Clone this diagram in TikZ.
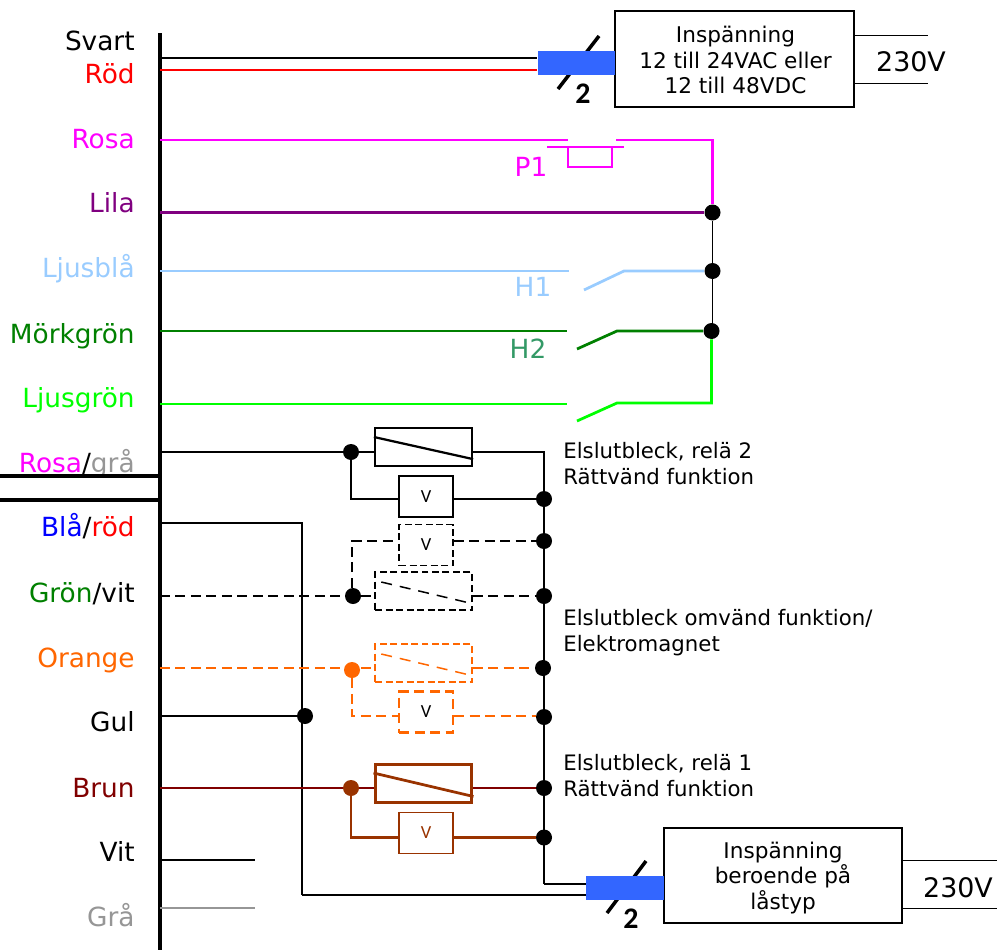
\documentclass[tikz,border=0pt]{standalone}
\usepackage{fontspec}
\setmainfont{DejaVu Sans}
\newfontfamily\calfont{Carlito}
\usepackage{tikz}
\usetikzlibrary{positioning}
\definecolor{rosa}{HTML}{FF00FF}
\definecolor{lila}{HTML}{800080}
\definecolor{ljusbla}{HTML}{99CCFF}
\definecolor{morkgron}{HTML}{008000}
\definecolor{hgron}{HTML}{339966}
\definecolor{ljusgron}{HTML}{00FF00}
\definecolor{gra}{HTML}{969696}
\definecolor{orange}{HTML}{FF6600}
\definecolor{brun}{HTML}{800000}
\definecolor{brunlj}{HTML}{993300}
\definecolor{kabel}{HTML}{3366FF}

\begin{document}
\begin{tikzpicture}
	[x=0.02cm,y=-0.02cm,
	lbl/.style={anchor=base east,inner sep=0pt,font=\fontsize{15}{17}\selectfont},
	sym/.style={inner sep=0pt,font=\fontsize{15}{17}\selectfont},
	note/.style={anchor=west,inner sep=0pt,align=left,font=\fontsize{12.1}{14.8}\selectfont},
	boxframe/.style={shape=rectangle,draw,line width=0.045cm,inner sep=0pt},
	boxtext/.style={inner sep=0pt,align=center,font=\fontsize{12.3}{14.3}\selectfont},
	volt/.style={inner sep=0pt,font=\fontsize{15.3}{17}\selectfont},
	two/.style={inner sep=0pt,font=\calfont\bfseries\fontsize{17}{19}\selectfont},
	wire/.style={line width=0.055cm},
	thinwire/.style={line width=0.03cm},
	mains/.style={line width=0.02cm},
	dashwire/.style={line width=0.055cm,dash pattern=on 0.2cm off 0.11cm},
	relay/.style={shape=rectangle,draw,line width=0.045cm,minimum width=1.94cm,minimum height=0.76cm,inner sep=0pt},
	vbox/.style={shape=rectangle,draw,line width=0.04cm,minimum width=1.08cm,minimum height=0.82cm,inner sep=0pt,font=\calfont\fontsize{10.5}{12}\selectfont},
	dashbox/.style={line width=0.03cm,dash pattern=on 0.14cm off 0.07cm},
	dot/.style={shape=circle,fill=black,minimum size=0.32cm,inner sep=0pt},
	cable/.style={shape=rectangle,fill=kabel,minimum width=1.55cm,minimum height=0.48cm,inner sep=0pt}]
	\useasboundingbox (0,0) rectangle (997,950);

	% bus and labels
	\node (svart) [lbl] at (135,50.5) {Svart};
	\node (rod) [lbl,text=red] at (135,83) {Röd};
	\node (lrosa) [lbl,text=rosa] at (135,148) {Rosa};
	\node (llila) [lbl,text=lila] at (135,212) {Lila};
	\node (lbla) [lbl,text=ljusbla] at (135,277.5) {Ljusblå};
	\node (lmork) [lbl,text=morkgron] at (135,343) {Mörkgrön};
	\node (lljus) [lbl,text=ljusgron] at (135,407) {Ljusgrön};
	\node (lrosagra) [lbl] at (135,472) {\textcolor{rosa}{Rosa}/\textcolor{gra}{grå}};
	\node (lblarod) [lbl] at (135,536) {\textcolor{blue}{Blå}/\textcolor{red}{röd}};
	\node (lgronvit) [lbl] at (135,602) {\textcolor{morkgron}{Grön}/vit};
	\node (lorange) [lbl,text=orange] at (135,667) {Orange};
	\node (lgul) [lbl] at (135,731) {Gul};
	\node (lbrun) [lbl,text=brun] at (135,797) {Brun};
	\node (lvit) [lbl] at (135,861) {Vit};
	\node (lgra) [lbl,text=gra] at (135,926.5) {Grå};

	\coordinate (bustop) at (160,33);
	\coordinate (busbot) at (160,950);
	\coordinate (cut1a) at (0,476);
	\coordinate (cut1b) at (160,476);
	\coordinate (cut2a) at (0,499.5);
	\coordinate (cut2b) at (160,499.5);
	\draw [line width=0.09cm] (bustop) to (busbot);
	\draw [line width=0.08cm] (cut1a) to (cut1b);
	\draw [line width=0.08cm] (cut2a) to (cut2b);

	% top supply
	\node (supply) [boxframe,minimum width=4.78cm,minimum height=1.92cm] at (734.5,59) {};
	\node (supplytext) [boxtext] at (735.5,60) {Inspänning\\12 till 24VAC eller\\12 till 48VDC};
	\node (cabletop) [cable] at (576.5,63) {};
	\node (twotop) [two] at (583,94) {2};
	\node (volttop) [volt] at (911,62) {230V};
	\coordinate (sl1a) at (558,89);
	\coordinate (sl1b) at (599,36);
	\coordinate (mains1a) at (855,35);
	\coordinate (mains1b) at (928,35);
	\coordinate (mains2a) at (855,83);
	\coordinate (mains2b) at (928,83);
	\coordinate (bsvart) at (160,58);
	\coordinate (bred) at (160,70);
	\draw [wire] (bsvart) to (cabletop.west |- bsvart);
	\draw [wire,red] (bred) to (cabletop.west |- bred);
	\draw [mains] (mains1a) to (mains1b);
	\draw [mains] (mains2a) to (mains2b);
	\draw [line width=0.07cm] (sl1a) to (sl1b);
	\node [cable] at (cabletop) {};

	% switches
	\node (jlila) [dot] at (712.5,212.5) {};
	\node (jbla) [dot] at (712.5,271) {};
	\node (jmork) [dot] at (711.5,331) {};
	\coordinate (brosa) at (160,140);
	\coordinate (rosa1) at (568,140);
	\coordinate (rosa2) at (616,140);
	\coordinate (blila) at (160,212.5);
	\coordinate (bbla) at (160,271);
	\coordinate (bla1) at (569,271);
	\coordinate (bla2) at (584,290);
	\coordinate (bla3) at (624,271);
	\coordinate (bmork) at (160,331);
	\coordinate (mork1) at (567,331);
	\coordinate (mork2) at (577,349);
	\coordinate (mork3) at (617,331);
	\coordinate (bljus) at (160,404);
	\coordinate (ljus1) at (567,404);
	\coordinate (ljus2) at (577,421);
	\coordinate (ljus3) at (617,403);
	\coordinate (bar1) at (547,147);
	\coordinate (bar2) at (624,147);
	\coordinate (knob1) at (568,147);
	\coordinate (knob2) at (612,167);

	\draw [wire,rosa] (brosa) to (rosa1);
	\draw [wire,rosa] (rosa2) -- (jlila |- rosa2) -- (jlila);
	\draw [mains,rosa,line width=0.03cm] (bar1) to (bar2);
	\draw [rosa,line width=0.035cm] (knob1) rectangle (knob2);
	\draw [wire,lila] (blila) to (jlila);
	\draw [thinwire] (jlila) to (jlila |- jmork);
	\draw [wire,ljusbla] (bbla) to (bla1);
	\draw [wire,ljusbla] (bla2) -- (bla3) -- (jbla);
	\draw [wire,morkgron] (bmork) to (mork1);
	\draw [wire,morkgron] (mork2) -- (mork3) -- (jmork);
	\draw [wire,ljusgron] (bljus) to (ljus1);
	\draw [wire,ljusgron] (ljus2) -- (ljus3) -- (jmork |- ljus3) -- (jmork);
	\node (p1) [sym,text=rosa] at (531,167) {P1};
	\node (h1) [sym,text=ljusbla] at (533,287) {H1};
	\node (h2) [sym,text=hgron] at (528,349) {H2};

	% locks
	\node (jr2) [dot] at (351,452) {};
	\node (rel2) [relay] at (423.5,447) {};
	\node (v2) [vbox] at (426,496.5) {V};
	\node (j1) [dot] at (544,499) {};
	\node (jb1) [dot] at (544,541) {};
	\node (j2) [dot] at (544,596) {};
	\node (jg) [dot] at (353,596) {};
	\node (vd) [vbox,dashbox] at (426,545) {V};
	\node (reld) [relay,dashbox] at (423.5,591) {};
	\node (jo) [dot,fill=orange] at (352,670) {};
	\node (relo) [relay,dashbox,draw=orange] at (423.5,663) {};
	\node (vo) [vbox,dashbox,draw=orange,line width=0.05cm,dash pattern=on 0.2cm off 0.11cm] at (426,712) {V};
	\node (j3) [dot] at (543,668) {};
	\node (j4) [dot] at (544,717) {};
	\node (jgul) [dot] at (305,716) {};
	\node (jb) [dot,fill=brunlj] at (351,788) {};
	\node (relb) [relay,draw=brunlj,line width=0.06cm] at (423.5,783) {};
	\node (vb) [vbox,draw=brunlj,text=brunlj,line width=0.03cm] at (426,833) {V};
	\node (j5) [dot] at (544,788) {};
	\node (j6) [dot] at (544,837.5) {};

	\coordinate (brg) at (160,452);
	\coordinate (top) at (544,452);
	\coordinate (corner) at (544,884);
	\coordinate (bblarod) at (160,523);
	\coordinate (blarod1) at (302,523);
	\coordinate (blarod2) at (302,895);
	\coordinate (bgv) at (160,596);
	\coordinate (bor) at (160,668);
	\coordinate (bgul) at (160,716);
	\coordinate (bbrun) at (160,788);
	\coordinate (bvit) at (160,860);
	\coordinate (vit2) at (255,860);
	\coordinate (bgra) at (160,908);
	\coordinate (gra2) at (255,908);
	\coordinate (d1) at (352,541);
	\coordinate (o1) at (352,716);
	\coordinate (b1) at (351,837.5);
	\coordinate (r1) at (351,499);

	\draw [wire] (brg) to (jr2);
	\draw [wire] (jr2) to (rel2.west |- jr2);
	\draw [wire] (rel2.east |- jr2) -- (top) -- (corner);
	\draw [wire] (jr2) -- (r1) -- (v2.west |- r1);
	\draw [wire] (v2.east |- j1) to (j1);
	\draw [wire] (bblarod) -- (blarod1) -- (blarod2);
	\draw [dashwire] (bgv) to (jg);
	\draw [dashwire] (jg) to (reld.west |- jg);
	\draw [dashwire] (reld.east |- j2) to (j2);
	\draw [dashwire] (jg.north -| d1) -- (d1) -- (vd.west |- d1);
	\draw [dashwire] (vd.east |- jb1) to (jb1);
	\draw [dashwire,orange] (bor) to (relo.west |- bor);
	\draw [dashwire,orange] (relo.east |- j3) to (j3);
	\draw [dashwire,orange] (jo) -- (o1) -- (vo.west |- o1);
	\draw [dashwire,orange] (vo.east |- o1) to (j4.west |- o1);
	\draw [wire] (bgul) to (jgul);
	\draw [wire,brun] (bbrun) to (jb);
	\draw [wire,brun] (jb) to (relb.west |- jb);
	\draw [wire,brun] (relb.east |- j5) to (j5);
	\draw [wire,brunlj] (jb) -- (b1) -- (vb.west |- b1);
	\draw [wire,brunlj] (vb.east |- b1) to (j6);
	\draw [wire] (bvit) to (vit2);
	\draw [wire,gra] (bgra) to (gra2);

	\draw [wire,line width=0.045cm] ([yshift=0.2cm]rel2.west) to ([yshift=0.16cm]rel2.south east);
	\draw [dashbox,dash pattern=on 0.22cm off 0.16cm] ([shift={(0.14cm,0.18cm)}]reld.west) to ([yshift=0.14cm]reld.south east);
	\draw [dashbox,orange,dash pattern=on 0.22cm off 0.16cm] ([shift={(0.14cm,0.18cm)}]relo.west) to ([yshift=0.14cm]relo.south east);
	\draw [wire,brunlj] ([yshift=0.2cm]relb.west) to ([yshift=0.14cm]relb.south east);

	\node (n1) [note] at (563,464) {Elslutbleck, relä 2\\Rättvänd funktion};
	\node (n2) [note] at (563,632.5) {Elslutbleck omvänd funktion/\\Elektromagnet};
	\node (n3) [note] at (563,776) {Elslutbleck, relä 1\\Rättvänd funktion};

	% bottom supply
	\node (supply2) [boxframe,minimum width=4.76cm,minimum height=1.9cm] at (783,875.5) {};
	\node (supply2text) [boxtext] at (783,878) {Inspänning\\beroende på\\låstyp};
	\node (cablebot) [cable] at (625,888) {};
	\node (twobot) [two] at (631,919) {2};
	\node (voltbot) [volt] at (958,888) {230V};
	\coordinate (sl2a) at (607,913);
	\coordinate (sl2b) at (646,861);
	\coordinate (mains3a) at (903,860);
	\coordinate (mains3b) at (997,860);
	\coordinate (mains4a) at (903,908);
	\coordinate (mains4b) at (997,908);
	\draw [wire] (corner) to (cablebot.west |- corner);
	\draw [wire] (blarod2) to (cablebot.west |- blarod2);
	\draw [line width=0.07cm] (sl2a) to (sl2b);
	\node [cable] at (cablebot) {};
	\draw [mains] (mains3a) to (mains3b);
	\draw [mains] (mains4a) to (mains4b);
\end{tikzpicture}
\end{document}
